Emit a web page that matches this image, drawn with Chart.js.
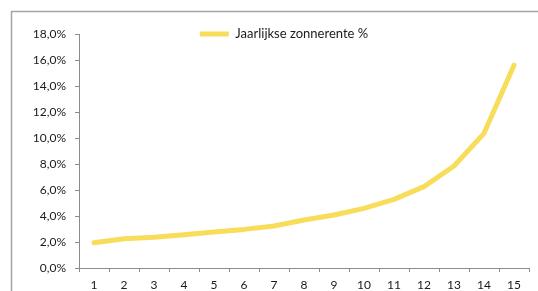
<!DOCTYPE html>
<html>
<head>
<meta charset="utf-8">
<style>
  html, body { margin: 0; padding: 0; background: #ffffff; overflow: hidden; }
  #wrap { position: relative; width: 538px; height: 300px; }
  canvas { display: block; }
</style>
<script src="https://cdn.jsdelivr.net/npm/chart.js@4/dist/chart.umd.min.js"></script>
</head>
<body>
<div id="wrap"><canvas id="c" width="538" height="300"></canvas></div>
<script>
const categories = ['1','2','3','4','5','6','7','8','9','10','11','12','13','14','15'];
const seriesLabel = 'Jaarlijkse zonnerente %';
const seriesValues = [1.95, 2.25, 2.36, 2.56, 2.77, 2.97, 3.23, 3.69, 4.08, 4.59, 5.28, 6.26, 7.85, 10.36, 15.6];
const yTicks = [0, 2, 4, 6, 8, 10, 12, 14, 16, 18];

const FONT = 'Lato';
const TEXT = '#1a1a1a';
const AXIS = '#8c8c8c';
const YELLOW = '#F8DD5B';

const frame = {
  id: 'frame',
  beforeDraw(chart) {
    const ctx = chart.ctx;
    ctx.save();
    ctx.strokeStyle = '#a3a3a3';
    ctx.lineWidth = 1.5;
    ctx.beginPath();
    ctx.moveTo(11.5, 320);
    ctx.lineTo(11.5, 11.5);
    ctx.lineTo(560, 11.5);
    ctx.stroke();
    ctx.restore();
  }
};

const legendShift = {
  id: 'legendShift',
  afterLayout(chart) {
    const lg = chart.legend;
    if (!lg) return;
    const dx = 284 - (lg.left + lg.right) / 2;
    lg.left += dx; lg.right += dx;
    const dy = 27.5 - lg.top;
    lg.top += dy; lg.bottom += dy;
  }
};

const chart = new Chart(document.getElementById('c'), {
  type: 'line',
  data: {
    labels: categories,
    datasets: [{
      label: seriesLabel,
      data: seriesValues,
      borderColor: YELLOW,
      backgroundColor: YELLOW,
      borderWidth: 5,
      borderCapStyle: 'round',
      borderJoinStyle: 'round',
      pointRadius: 0,
      pointHoverRadius: 0,
      tension: 0,
      fill: false
    }]
  },
  options: {
    responsive: false,
    animation: false,
    events: [],
    layout: { padding: { top: 20, left: 0, right: 9, bottom: 6 } },
    plugins: {
      tooltip: { enabled: false },
      legend: {
        position: 'top',
        align: 'center',
        fullSize: false,
        labels: {
          usePointStyle: true,
          pointStyle: 'line',
          pointStyleWidth: 29,
          boxWidth: 29,
          boxHeight: 13,
          padding: 0,
          color: TEXT,
          font: { family: FONT, size: 13 }
        }
      }
    },
    scales: {
      x: {
        type: 'category',
        offset: true,
        grid: { display: true, drawOnChartArea: false, drawTicks: true, tickLength: 4, offset: true, color: AXIS, lineWidth: 1 },
        border: { display: true, color: AXIS, width: 1 },
        ticks: { color: TEXT, font: { family: FONT, size: 12 }, padding: 6, maxRotation: 0, autoSkip: false },
        afterFit(scale) { scale.height = 26; }
      },
      y: {
        type: 'linear',
        min: 0,
        max: 18,
        afterBuildTicks(scale) { scale.ticks = yTicks.map(v => ({ value: v })); },
        grid: { display: true, drawOnChartArea: false, drawTicks: true, tickLength: 4, color: AXIS, lineWidth: 1 },
        border: { display: true, color: AXIS, width: 1 },
        ticks: {
          color: TEXT,
          font: { family: FONT, size: 12 },
          padding: 9,
          callback: (v) => v.toFixed(1).replace('.', ',') + '%'
        },
        afterFit(scale) { scale.width = 79; }
      }
    }
  },
  plugins: [frame, legendShift]
});
// align the plot area top edge with the reference (18% tick at y = 34)
const diff = 34 - chart.chartArea.top;
if (Math.abs(diff) > 0.01) {
  chart.options.layout.padding.top += diff;
  chart.update('none');
}
</script>
</body>
</html>
